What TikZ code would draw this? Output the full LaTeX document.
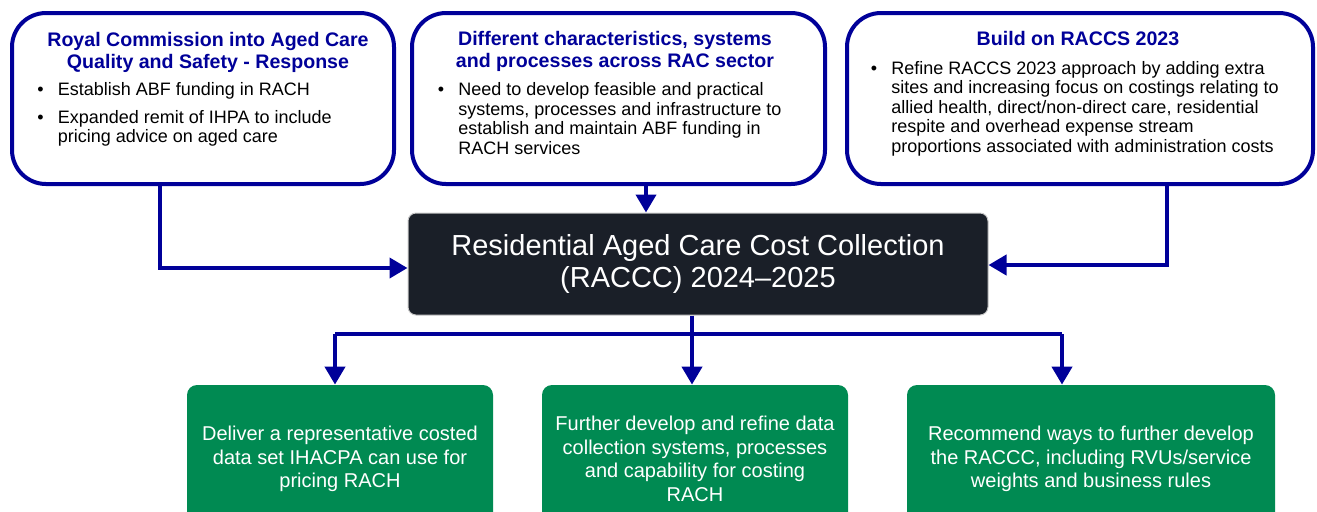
\documentclass[tikz,border=0pt]{standalone}
\usepackage{fontspec}
\setmainfont{Liberation Sans}
\usetikzlibrary{arrows.meta,positioning}

\definecolor{navy}{RGB}{0,0,153}
\definecolor{hubdark}{RGB}{26,31,40}
\definecolor{hubline}{RGB}{200,200,200}
\definecolor{outgreen}{RGB}{0,138,82}

\newcommand{\bul}{\llap{\makebox[10.25pt][l]{\textbullet}}}

\tikzset{
	topbox/.style={draw=navy, line width=2pt, rounded corners=17pt, fill=white, minimum height=85.5pt},
	head/.style={font=\bfseries\fontsize{9.8}{11}\selectfont, text=navy, align=center, inner sep=0pt, anchor=base},
	itemtext/.style={font=\fontsize{9}{9.75}\selectfont, align=left, inner sep=0pt, anchor=base west},
	hub/.style={fill=hubdark, draw=hubline, line width=0.5pt, rounded corners=4pt, text=white,
		font=\fontsize{14.5}{16}\selectfont, align=center, minimum width=290pt, minimum height=51pt},
	outbox/.style={fill=outgreen, rounded corners=5pt, text=white, font=\fontsize{10}{11.75}\selectfont,
		align=center, minimum height=74pt},
	link/.style={navy, line width=2pt, -{Triangle[width=10pt,length=9pt]}},
	plain/.style={navy, line width=2pt}
}

\begin{document}
\begin{tikzpicture}[x=0.5pt, y=-0.5pt]
	\clip (0,0) rectangle (1317,511);

	\node[topbox, minimum width=191pt] (royal) at (203,98.5) {};
	\node[topbox, minimum width=206.5pt] (diff) at (618.5,98.5) {};
	\node[topbox, minimum width=233pt] (build) at (1080,98.5) {};

	% text nodes sit on the baseline of their last line
	\node[head] (royalhead) at (208,68) {Royal Commission into Aged Care\\Quality and Safety - Response};
	\node[itemtext] (royala) at (57.5,95.5) {\bul Establish ABF funding in RACH};
	\node[itemtext] (royalb) at (57.5,142.5) {\bul Expanded remit of IHPA to include\\pricing advice on aged care};

	\node[head] (diffhead) at (615,67) {Different characteristics, systems\\and processes across RAC sector};
	\node[itemtext] (diffa) at (458,154) {\bul Need to develop feasible and practical\\systems, processes and infrastructure to\\establish and maintain ABF funding in\\RACH services};

	\node[head] (buildhead) at (1078,45) {Build on RACCS 2023};
	\node[itemtext] (builda) at (891,152) {\bul Refine RACCS 2023 approach by adding extra\\sites and increasing focus on costings relating to\\allied health, direct/non-direct care, residential\\respite and overhead expense stream\\proportions associated with administration costs};

	\node[hub] (raccc) at (698,264) {Residential Aged Care Cost Collection\\(RACCC) 2024--2025};

	\node[outbox, minimum width=153pt] (deliver) at (340,459) {Deliver a representative costed\\data set IHACPA can use for\\pricing RACH};
	\node[outbox, minimum width=153pt] (further) at (695,459) {Further develop and refine data\\collection systems, processes\\and capability for costing\\RACH};
	\node[outbox, minimum width=184pt] (recommend) at (1091,459) {Recommend ways to further develop\\the RACCC, including RVUs/service\\weights and business rules};

	\coordinate (lbend) at (160,268);
	\coordinate (mdrop) at (646,200);
	\coordinate (rbend) at (1167,265);
	\coordinate (split) at (692,334);
	\coordinate (lsplit) at (335,334);
	\coordinate (rsplit) at (1062,334);

	\draw[link] (lbend |- royal.south) -- (lbend) -- (lbend -| raccc.west);
	\draw[link] (mdrop |- diff.south) -- (mdrop |- raccc.north);
	\draw[link] (rbend |- build.south) -- (rbend) -- (rbend -| raccc.east);

	\draw[link] (split |- raccc.south) -- (split |- further.north);
	\draw[plain] (lsplit) -- (rsplit);
	\draw[link] (lsplit) -- (lsplit |- deliver.north);
	\draw[link] (rsplit) -- (rsplit |- recommend.north);
\end{tikzpicture}
\end{document}
